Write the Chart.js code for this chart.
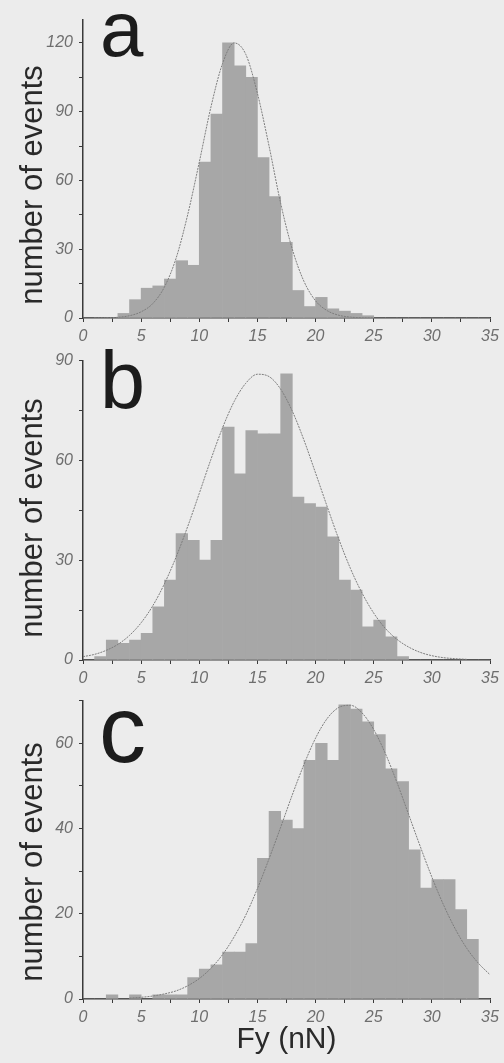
<!DOCTYPE html>
<html>
<head>
<meta charset="utf-8">
<title>Fy histograms</title>
<script src="https://cdn.jsdelivr.net/npm/chart.js@4.4.1/dist/chart.umd.min.js"></script>
<style>
    html, body { margin: 0; padding: 0; background: #ececec; }
    #wrap { position: relative; width: 504px; height: 1063px; overflow: hidden; }
    .panel { position: absolute; left: 0; width: 504px; }
    canvas { display: block; }
</style>
</head>
<body>
<div id="wrap">
    <div class="panel" style="top:0"><canvas id="chart-a" width="504" height="345"></canvas></div>
    <div class="panel" style="top:345px"><canvas id="chart-b" width="504" height="340"></canvas></div>
    <div class="panel" style="top:685px"><canvas id="chart-c" width="504" height="378"></canvas></div>
</div>
<script>
// histogram bins, 1 nN wide, left edges
var binStarts = [0,1,2,3,4,5,6,7,8,9,10,11,12,13,14,15,16,17,18,19,20,21,22,23,24,25,26,27,28,29,30,31,32,33,34];

// counts
var countsA = [0,0,0,2,8,13,14,17,25,23,68,89,120,110,105,70,53,33,12,5,9,4,3,2,1,0,0,0,0,0,0,0,0,0,0];
var countsB = [0,1,6,5,6,8,16,24,38,36,30,36,70,56,69,68,68,86,49,47,46,37,24,21,10,12,7,1,0,0,0,0,0,0,0];
var countsC = [0,0,1,0,1,0,1,1,1,5,7,8,11,11,13,33,44,42,40,56,60,56,69,68,65,62,54,51,35,26,28,28,21,14,0];

// fitted curves, read at 1 nN steps
var fitXA = [1,2,3,4,5,6,7,8,9,10,11,12,13,14,15,16,17,18,19,20,21,22,23,24,25];
var fitA  = [0,0.1,0.3,1,2.7,6.3,13.5,26,45,68,92,111,120,115,98,75,50,30,16,7.5,3.2,1.2,0.4,0.1,0];
var fitXB = [0,1,2,3,4,5,6,7,8,9,10,11,12,13,14,15,16,17,18,19,20,21,22,23,24,25,26,27,28,29,30,31,32,33];
var fitB  = [1,1.7,2.9,4.7,7.4,11.2,16.3,22.9,30.9,40.1,50.1,60.3,69.8,77.7,83.2,85.9,85.2,81.4,74.8,66.1,56.2,46.1,36.3,27.5,20.1,14.1,9.5,6.2,3.9,2.3,1.3,0.7,0.4,0.2];
var fitXC = [4,5,6,7,8,9,10,11,12,13,14,15,16,17,18,19,20,21,22,23,24,25,26,27,28,29,30,31,32,33,34,35];
var fitC  = [0.2,0.4,0.7,1.2,1.9,3.1,4.8,7.2,10.4,14.6,19.7,25.9,32.9,40.3,47.9,55,61.2,65.8,68.4,68.9,67.1,63.2,57.6,50.8,43.3,35.8,28.6,22.1,16.5,11.9,8.4,5.7];

// tick positions (labels only on the major ones)
var xTicks = [0,2.5,5,7.5,10,12.5,15,17.5,20,22.5,25,27.5,30,32.5,35];
var yTicksA = [0,15,30,45,60,75,90,105,120];
var yTicksB = [0,15,30,45,60,75,90];
var yTicksC = [0,10,20,30,40,50,60,70];

var FONT = '"Liberation Sans", Arial, Helvetica, sans-serif';
var BAR = '#a7a7a7';
var CURVE = '#7d7d7d';
var AXIS = '#3a3a3a';
var TICKTXT = '#6e6e6e';

// big panel letter (a, b, c) and the rotated y title
var panelText = {
    id: 'panelText',
    afterDraw: function (chart, args, opts) {
        var ctx = chart.ctx;
        ctx.save();
        ctx.fillStyle = '#1c1c1c';
        ctx.font = opts.size + 'px ' + FONT;
        ctx.textAlign = 'left';
        ctx.textBaseline = 'alphabetic';
        ctx.fillText(opts.text, opts.x, opts.y);

        // y axis title, placed where the original has it
        ctx.translate(42, opts.titleY);
        ctx.rotate(-Math.PI / 2);
        ctx.fillStyle = '#2a2a2a';
        ctx.font = '31px ' + FONT;
        ctx.textAlign = 'center';
        ctx.fillText('number of events', 0, 0);
        ctx.restore();
    }
};

function makeChart(id, counts, fitX, fitY, yTicks, yMax, yLabelStep, p) {
    var bars = binStarts.map(function (s, i) {
        return { x: s + 0.5, y: counts[i] };
    });
    var curve = fitX.map(function (x, i) {
        return { x: x, y: fitY[i] };
    });

    return new Chart(document.getElementById(id).getContext('2d'), {
        type: 'bar',
        data: {
            datasets: [
                {
                    type: 'line',
                    data: curve,
                    borderColor: CURVE,
                    borderWidth: 1,
                    borderDash: [2, 1],
                    pointRadius: 0,
                    fill: false,
                    cubicInterpolationMode: 'monotone',
                    order: 0
                },
                {
                    data: bars,
                    backgroundColor: BAR,
                    borderWidth: 0,
                    barPercentage: 1,
                    categoryPercentage: 1,
                    order: 1
                }
            ]
        },
        options: {
            responsive: false,
            animation: false,
            layout: { padding: { top: p.top, right: 14, left: 0, bottom: 0 } },
            plugins: {
                legend: { display: false },
                tooltip: { enabled: false },
                panelText: p.letter
            },
            scales: {
                x: {
                    type: 'linear',
                    min: 0,
                    max: 35,
                    offset: false,
                    afterBuildTicks: function (sc) {
                        sc.ticks = xTicks.map(function (v) { return { value: v }; });
                    },
                    afterFit: function (sc) { sc.height = p.xHeight; },
                    ticks: {
                        autoSkip: false,
                        maxRotation: 0,
                        padding: 5,
                        color: TICKTXT,
                        font: { family: FONT, size: 16, style: 'italic' },
                        callback: function (v) { return v % 5 === 0 ? v : ''; }
                    },
                    grid: {
                        display: true,
                        offset: false,
                        drawOnChartArea: false,
                        tickLength: 4,
                        tickColor: AXIS
                    },
                    border: { display: true, color: AXIS, width: 1.5, dash: [1, 1] },
                    title: {
                        display: !!p.xTitle,
                        text: p.xTitle || '',
                        color: '#2a2a2a',
                        font: { family: FONT, size: 30 },
                        padding: { top: 0, bottom: 5 }
                    }
                },
                y: {
                    min: 0,
                    max: yMax,
                    afterBuildTicks: function (sc) {
                        sc.ticks = yTicks.map(function (v) { return { value: v }; });
                    },
                    afterFit: function (sc) { sc.width = 83; },
                    ticks: {
                        padding: 6,
                        color: TICKTXT,
                        font: { family: FONT, size: 16, style: 'italic' },
                        callback: function (v) { return v % yLabelStep === 0 ? v : ''; }
                    },
                    grid: {
                        display: true,
                        drawOnChartArea: false,
                        tickLength: 4,
                        tickColor: AXIS
                    },
                    border: { display: true, color: AXIS, width: 1.5, dash: [1, 1] }
                }
            }
        },
        plugins: [panelText]
    });
}

makeChart('chart-a', countsA, fitXA, fitA, yTicksA, 130, 30, {
    top: 20, xHeight: 27,
    letter: { text: 'a', x: 100, y: 56, size: 78, titleY: 185 }
});
makeChart('chart-b', countsB, fitXB, fitB, yTicksB, 90, 30, {
    top: 14, xHeight: 25,
    letter: { text: 'b', x: 100, y: 63, size: 81, titleY: 173 }
});
makeChart('chart-c', countsC, fitXC, fitC, yTicksC, 70, 20, {
    top: 15, xHeight: 64, xTitle: 'Fy (nN)',
    letter: { text: 'c', x: 99, y: 77, size: 94, titleY: 177 }
});
</script>
</body>
</html>
